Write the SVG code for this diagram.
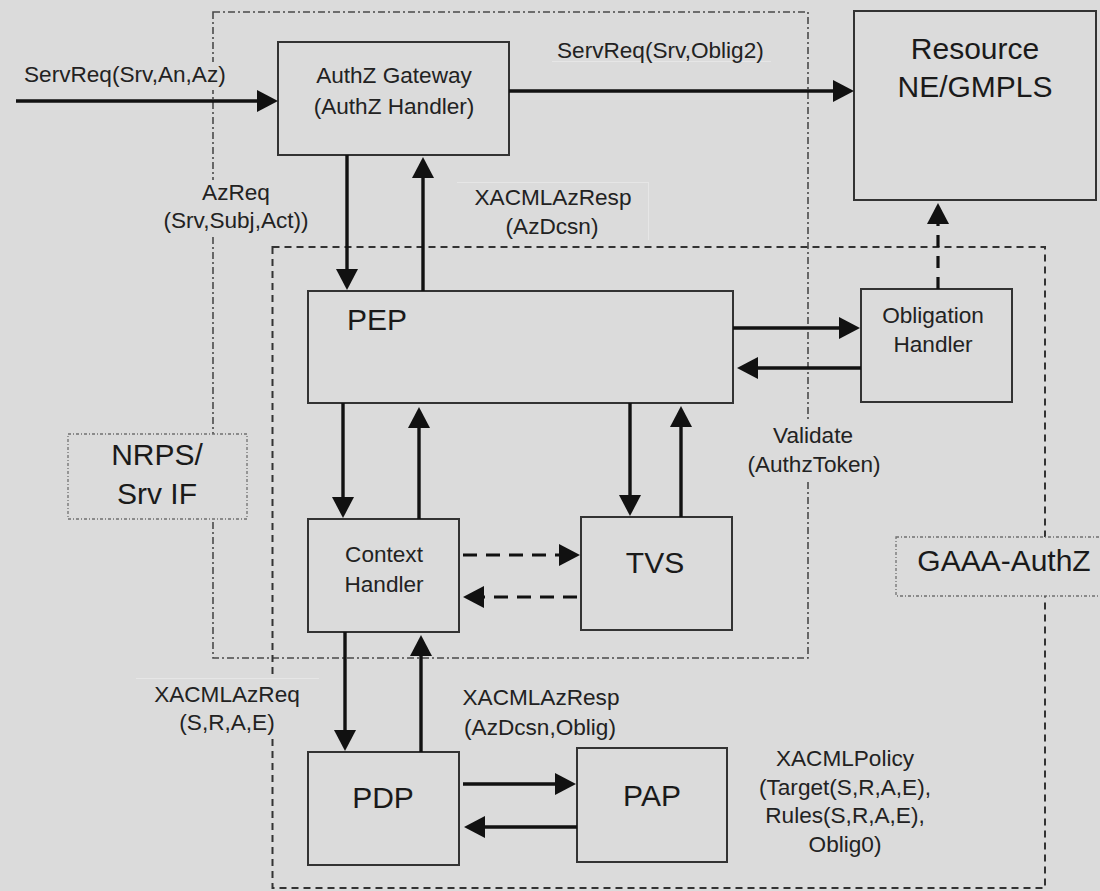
<svg xmlns="http://www.w3.org/2000/svg" width="1100" height="891" viewBox="0 0 1100 891">
  <defs>
    <style>
      .bg { fill: #dbdbdb; }
      .node { fill: #dbdbdb; stroke: #333; stroke-width: 2; }
      .zone-dashdot { fill: none; stroke: #4a4a4a; stroke-width: 1.6; stroke-dasharray: 7 3 2 3; }
      .zone-dashed { fill: none; stroke: #333; stroke-width: 2; stroke-dasharray: 7 5; }
      .tag { fill: #dbdbdb; stroke: #707070; stroke-width: 1.3; stroke-dasharray: 3 2 1 2; }
      .edge { fill: none; stroke: #111; stroke-width: 3.4; }
      .edge-dash { fill: none; stroke: #111; stroke-width: 3.2; stroke-dasharray: 14 9; }
      .edge-dash2 { fill: none; stroke: #111; stroke-width: 3.2; stroke-dasharray: 12 9; }
      .mask { fill: #dbdbdb; stroke: none; }
      .ghost { stroke: #e6e6e6; stroke-width: 1; fill: none; }
      text { font-family: "Liberation Sans", Arial, sans-serif; fill: #222; }
      .sm { font-size: 22.6px; }
      .lg { font-size: 30px; fill: #1a1a1a; }
      .c { text-anchor: middle; }
    </style>
    <marker id="head" markerUnits="userSpaceOnUse" markerWidth="22" markerHeight="22" refX="11" refY="11" orient="auto">
      <path d="M0,0 L21,11 L0,22 z" fill="#111"/>
    </marker>
  </defs>

  <rect class="bg" x="0" y="0" width="1100" height="891"/>

  <!-- service interface boundary (dash-dot) and GAAA-AuthZ boundary (dashed) -->
  <g id="zones">
    <rect class="zone-dashdot" x="213" y="12" width="595" height="646"/>
    <rect class="zone-dashed" x="272.5" y="247" width="772.5" height="641"/>
  </g>

  <!-- label backplates hiding the boundary lines behind text -->
  <g id="label-plates">
    <rect class="mask" x="20" y="62" width="212" height="28"/>
    <rect class="mask" x="160" y="180" width="154" height="56"/>
    <rect class="mask" x="742" y="420" width="146" height="60"/>
    <rect class="mask" x="136" y="679" width="183" height="58"/>
    <line class="ghost" x1="136" y1="678.5" x2="319" y2="678.5"/>
    <line class="ghost" x1="457" y1="182.5" x2="648" y2="182.5"/>
    <line class="ghost" x1="648.5" y1="182" x2="648.5" y2="240"/>
    <line class="ghost" x1="552" y1="61.5" x2="771" y2="61.5"/>
  </g>

  <g id="nrps-tag">
    <rect class="tag" x="68" y="434" width="179" height="85"/>
    <text class="lg c" x="157" y="465">NRPS/</text>
    <text class="lg c" x="157" y="504">Srv IF</text>
  </g>

  <g id="gaaa-tag">
    <rect class="tag" x="896" y="537" width="214" height="59"/>
    <text class="lg c" x="1004" y="571">GAAA-AuthZ</text>
  </g>

  <g id="authz-gateway">
    <rect class="node" x="278" y="42" width="231" height="113"/>
    <text class="sm c" x="394" y="83">AuthZ Gateway</text>
    <text class="sm c" x="394" y="114">(AuthZ Handler)</text>
  </g>

  <g id="resource">
    <rect class="node" x="854" y="11" width="242" height="189"/>
    <text class="lg c" x="975" y="59">Resource</text>
    <text class="lg c" x="975" y="97">NE/GMPLS</text>
  </g>

  <g id="pep">
    <rect class="node" x="308" y="291" width="425" height="112"/>
    <text class="lg" x="347" y="330">PEP</text>
  </g>

  <g id="obligation-handler">
    <rect class="node" x="861" y="289" width="151" height="113"/>
    <text class="sm c" x="933" y="323">Obligation</text>
    <text class="sm c" x="933" y="352">Handler</text>
  </g>

  <g id="context-handler">
    <rect class="node" x="308" y="519" width="151" height="113"/>
    <text class="sm c" x="384" y="562">Context</text>
    <text class="sm c" x="384" y="592">Handler</text>
  </g>

  <g id="tvs">
    <rect class="node" x="581" y="517" width="151" height="113"/>
    <text class="lg c" x="655" y="573">TVS</text>
  </g>

  <g id="pdp">
    <rect class="node" x="308" y="752" width="151" height="113"/>
    <text class="lg c" x="383" y="808">PDP</text>
  </g>

  <g id="pap">
    <rect class="node" x="577" y="748" width="150" height="114"/>
    <text class="lg c" x="652" y="806">PAP</text>
  </g>

  <g id="connectors">
    <line class="edge" x1="16" y1="101" x2="268" y2="101" marker-end="url(#head)"/>
    <line class="edge" x1="509" y1="91" x2="844" y2="91" marker-end="url(#head)"/>
    <line class="edge" x1="347" y1="155" x2="347" y2="280" marker-end="url(#head)"/>
    <line class="edge" x1="423" y1="291" x2="423" y2="167" marker-end="url(#head)"/>
    <line class="edge" x1="733" y1="328" x2="850" y2="328" marker-end="url(#head)"/>
    <line class="edge" x1="861" y1="368" x2="747" y2="368" marker-end="url(#head)"/>
    <line class="edge-dash2" x1="938" y1="289" x2="938" y2="213" marker-end="url(#head)"/>
    <line class="edge" x1="343" y1="403" x2="343" y2="508" marker-end="url(#head)"/>
    <line class="edge" x1="419" y1="519" x2="419" y2="417" marker-end="url(#head)"/>
    <line class="edge" x1="630" y1="403" x2="630" y2="506" marker-end="url(#head)"/>
    <line class="edge" x1="681" y1="517" x2="681" y2="416" marker-end="url(#head)"/>
    <line class="edge-dash" x1="463" y1="555" x2="570" y2="555" marker-end="url(#head)"/>
    <line class="edge-dash" x1="577" y1="597" x2="473" y2="597" marker-end="url(#head)"/>
    <line class="edge" x1="345" y1="632" x2="345" y2="741" marker-end="url(#head)"/>
    <line class="edge" x1="421" y1="752" x2="421" y2="645" marker-end="url(#head)"/>
    <line class="edge" x1="463" y1="784" x2="566" y2="784" marker-end="url(#head)"/>
    <line class="edge" x1="577" y1="827" x2="474" y2="827" marker-end="url(#head)"/>
  </g>

  <g id="edge-labels">
    <text class="sm" x="24" y="82">ServReq(Srv,An,Az)</text>
    <text class="sm" x="557" y="58">ServReq(Srv,Oblig2)</text>
    <text class="sm c" x="236" y="200">AzReq</text>
    <text class="sm c" x="236" y="228">(Srv,Subj,Act))</text>
    <text class="sm c" x="553" y="205">XACMLAzResp</text>
    <text class="sm c" x="552" y="234">(AzDcsn)</text>
    <text class="sm c" x="813" y="443">Validate</text>
    <text class="sm c" x="814" y="472">(AuthzToken)</text>
    <text class="sm c" x="227" y="702">XACMLAzReq</text>
    <text class="sm c" x="227" y="730">(S,R,A,E)</text>
    <text class="sm c" x="541" y="705">XACMLAzResp</text>
    <text class="sm c" x="540" y="735">(AzDcsn,Oblig)</text>
    <text class="sm c" x="845" y="766">XACMLPolicy</text>
    <text class="sm c" x="845" y="795">(Target(S,R,A,E),</text>
    <text class="sm c" x="845" y="823">Rules(S,R,A,E),</text>
    <text class="sm c" x="845" y="852">Oblig0)</text>
  </g>
</svg>
